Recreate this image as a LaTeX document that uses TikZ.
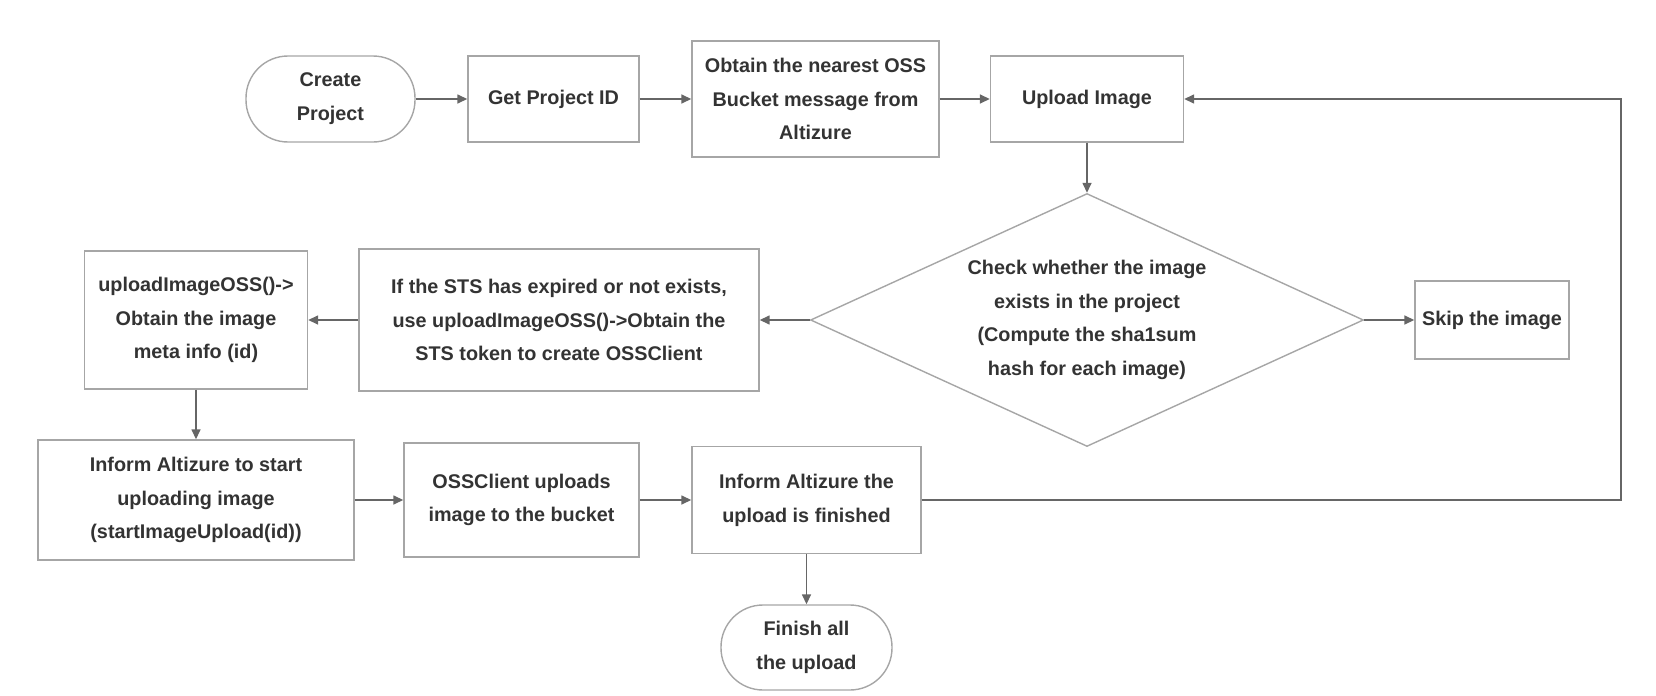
\documentclass[tikz,border=0pt]{standalone}
\usepackage{fontspec}
\setmainfont{Liberation Sans}
\usepackage{tikz}
\usetikzlibrary{arrows.meta,shapes.geometric}
\definecolor{boxgray}{HTML}{A6A6A6}
\definecolor{arrgray}{HTML}{666666}
\definecolor{txtgray}{HTML}{333333}
\tikzstyle{block}=[draw=boxgray,line width=0.7pt,fill=white,text=txtgray,font=\bfseries\fontsize{9.9}{16.9}\selectfont,align=center,inner sep=0pt]
\tikzstyle{term}=[block,rounded corners=21pt]
\tikzstyle{check}=[block,diamond,aspect=2.19]
\tikzstyle{flow} = [draw,line width=0.75pt,arrgray,-{Triangle[length=5pt,width=4.5pt]}]

\begin{document}
\begin{tikzpicture}[x=0.5pt,y=-0.5pt]
    \useasboundingbox (0,0) rectangle (1656,696);
    % First row
    \node[term, minimum width=84.5pt, minimum height=43pt] (create) at (330.5,99) {Create\\Project};
    \node[block, minimum width=85.5pt, minimum height=43pt] (getid) at (553.5,99) {Get Project ID};
    \node[block, minimum width=123.5pt, minimum height=58pt] (oss) at (815.5,99) {Obtain the nearest OSS\\Bucket message from\\Altizure};
    \node[block, minimum width=96.5pt, minimum height=43pt] (upload) at (1087,99) {Upload Image};
    % Decision row
    \node[check, minimum width=276.5pt, minimum height=126.5pt] (check) at (1087,320) {Check whether the image\\exists in the project\\(Compute the sha1sum\\hash for each image)};
    \node[block, minimum width=77pt, minimum height=39pt] (skip) at (1492,320) {Skip the image};
    \node[block, minimum width=200pt, minimum height=71pt] (sts) at (559,320) {If the STS has expired or not exists,\\use uploadImageOSS()->Obtain the\\STS token to create OSSClient};
    \node[block, minimum width=111.5pt, minimum height=69pt] (meta) at (196,320) {uploadImageOSS()->\\Obtain the image\\meta info (id)};
    % Last rows
    \node[block, minimum width=158pt, minimum height=60pt] (start) at (196,500) {Inform Altizure to start\\uploading image\\(startImageUpload(id))};
    \node[block, minimum width=117.5pt, minimum height=57pt] (client) at (521.5,500) {OSSClient uploads\\image to the bucket};
    \node[block, minimum width=114.5pt, minimum height=53.5pt] (done) at (806.5,500) {Inform Altizure the\\upload is finished};
    \node[term, minimum width=85.5pt, minimum height=42.5pt] (finish) at (806.5,647.5) {Finish all\\the upload};
    \coordinate (loopx) at (1621,99);
    % Connect the steps
    \foreach \source/\dest in {create/getid, getid/oss, oss/upload, upload/check, check/skip, check/sts, sts/meta, meta/start, start/client, client/done, done/finish}
        \path[flow] (\source) -- (\dest);
    \path[flow] (done.east) -- (done.east -| loopx) |- (upload.east);
\end{tikzpicture}
\end{document}
